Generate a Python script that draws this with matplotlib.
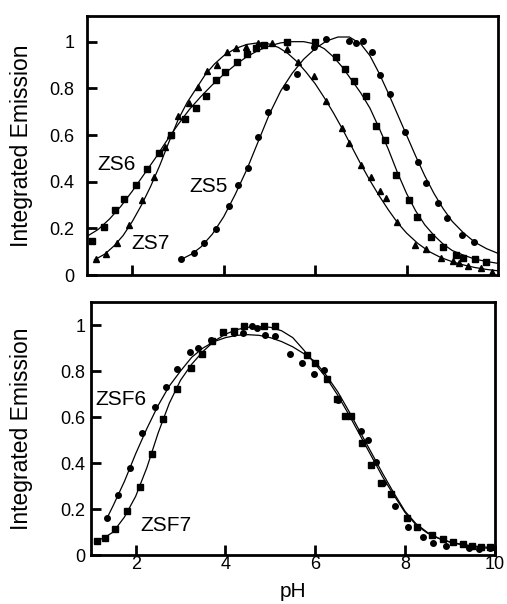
import matplotlib
matplotlib.use('Agg')
import matplotlib.pyplot as plt

plt.rcParams['font.family'] = ['Liberation Sans', 'DejaVu Sans']

# ---- top panel: measured points ----
zs5_ph = [3.07, 3.34, 3.57, 3.84, 4.11, 4.32, 4.53, 4.76, 4.97, 5.36, 5.61, 5.98,
          6.24, 6.75, 6.90, 7.04, 7.24, 7.43, 7.64, 7.97, 8.25, 8.43, 8.68, 8.88,
          9.22, 9.47]
zs5_em = [0.067, 0.096, 0.138, 0.198, 0.296, 0.384, 0.46, 0.59, 0.70, 0.807, 0.862,
          0.976, 1.01, 1.003, 0.996, 1.003, 0.955, 0.857, 0.776, 0.612, 0.484, 0.396,
          0.31, 0.246, 0.171, 0.141]

zs6_ph = [1.12, 1.38, 1.61, 1.82, 2.07, 2.32, 2.59, 2.85, 3.16, 3.40, 3.62, 3.84,
          4.03, 4.28, 4.50, 4.71, 4.89, 5.39, 6.00, 6.45, 6.66, 6.86, 7.12, 7.34,
          7.54, 7.78, 8.05, 8.24, 8.54, 8.80, 9.09, 9.24, 9.49, 9.73]
zs6_em = [0.147, 0.207, 0.277, 0.326, 0.386, 0.454, 0.524, 0.60, 0.67, 0.714, 0.766,
          0.836, 0.87, 0.914, 0.947, 0.972, 0.985, 1.0, 0.999, 0.936, 0.883, 0.83,
          0.768, 0.639, 0.579, 0.429, 0.321, 0.247, 0.162, 0.121, 0.087, 0.074,
          0.067, 0.057]

zs7_ph = [1.21, 1.42, 1.67, 1.93, 2.22, 2.48, 2.72, 2.83, 3.00, 3.23, 3.44, 3.63,
          3.86, 4.07, 4.27, 4.49, 4.74, 5.05, 5.38, 5.63, 5.98, 6.24, 6.59, 6.75,
          7.01, 7.23, 7.41, 7.56, 7.80, 8.18, 8.43, 8.76, 9.02, 9.16, 9.35, 9.64,
          9.88]
zs7_em = [0.067, 0.089, 0.136, 0.214, 0.321, 0.421, 0.55, 0.60, 0.68, 0.736, 0.805,
          0.876, 0.90, 0.957, 0.974, 0.979, 0.993, 0.996, 0.967, 0.914, 0.853, 0.746,
          0.629, 0.564, 0.471, 0.421, 0.36, 0.329, 0.228, 0.129, 0.11, 0.074, 0.06,
          0.05, 0.04, 0.031, 0.014]

# ---- top panel: fitted curves ----
zs5_fit_ph = [3.07, 3.3, 3.5, 3.75, 4.0, 4.25, 4.5, 4.75, 5.0, 5.25, 5.5, 5.75, 6.0,
              6.25, 6.5, 6.75, 7.0, 7.2, 7.4, 7.6, 7.8, 8.0, 8.2, 8.4, 8.6, 8.8,
              9.0, 9.25, 9.5, 9.75, 10.0]
zs5_fit_em = [0.067, 0.09, 0.12, 0.175, 0.25, 0.345, 0.45, 0.57, 0.69, 0.79, 0.865,
              0.925, 0.97, 1.003, 1.02, 1.02, 0.99, 0.94, 0.865, 0.78, 0.69, 0.60,
              0.51, 0.425, 0.35, 0.285, 0.23, 0.18, 0.14, 0.113, 0.093]

zs6_fit_ph = [1.0, 1.25, 1.5, 1.75, 2.0, 2.25, 2.5, 2.75, 3.0, 3.25, 3.5, 3.75, 4.0,
              4.25, 4.5, 4.75, 5.0, 5.25, 5.5, 5.75, 6.0, 6.2, 6.4, 6.6, 6.8, 7.0,
              7.2, 7.4, 7.6, 7.8, 8.0, 8.2, 8.4, 8.6, 8.8, 9.0, 9.25, 9.5, 9.75, 10.0]
zs6_fit_em = [0.165, 0.195, 0.24, 0.295, 0.36, 0.43, 0.50, 0.575, 0.645, 0.71, 0.765,
              0.815, 0.86, 0.90, 0.935, 0.962, 0.982, 0.995, 1.0, 1.0, 0.99, 0.97,
              0.935, 0.89, 0.835, 0.78, 0.715, 0.63, 0.54, 0.44, 0.35, 0.275, 0.215,
              0.17, 0.133, 0.105, 0.085, 0.068, 0.058, 0.05]

zs7_fit_ph = [1.17, 1.4, 1.6, 1.8, 2.0, 2.2, 2.4, 2.6, 2.8, 3.0, 3.2, 3.4, 3.6, 3.8,
              4.0, 4.25, 4.5, 4.75, 5.0, 5.2, 5.4, 5.6, 5.8, 6.0, 6.2, 6.4, 6.6,
              6.8, 7.0, 7.2, 7.4, 7.6, 7.8, 8.0, 8.25, 8.5, 8.75, 9.0, 9.25, 9.5,
              9.75, 10.0]
zs7_fit_em = [0.065, 0.09, 0.125, 0.17, 0.23, 0.30, 0.38, 0.47, 0.57, 0.665, 0.74,
              0.80, 0.86, 0.905, 0.94, 0.97, 0.988, 0.995, 0.99, 0.975, 0.95, 0.915,
              0.87, 0.82, 0.76, 0.695, 0.625, 0.55, 0.475, 0.405, 0.34, 0.28, 0.225,
              0.18, 0.135, 0.10, 0.075, 0.057, 0.043, 0.032, 0.024, 0.018]

# ---- bottom panel: measured points ----
zsf6_ph = [1.36, 1.61, 1.87, 2.15, 2.42, 2.67, 2.92, 3.21, 3.39, 3.68, 4.20, 4.39,
           4.59, 4.70, 4.87, 5.11, 5.44, 5.70, 5.98, 6.20, 6.50, 6.80, 7.01, 7.18,
           7.36, 7.52, 7.78, 8.07, 8.39, 8.63, 8.91, 9.43, 9.65, 9.90]
zsf6_em = [0.16, 0.261, 0.38, 0.529, 0.645, 0.732, 0.809, 0.881, 0.899, 0.935, 0.964,
           0.967, 0.997, 0.986, 0.957, 0.952, 0.874, 0.836, 0.787, 0.804, 0.674,
           0.606, 0.539, 0.50, 0.406, 0.312, 0.213, 0.123, 0.077, 0.054, 0.039,
           0.032, 0.025, 0.029]

zsf7_ph = [1.13, 1.31, 1.53, 1.81, 2.09, 2.36, 2.61, 2.92, 3.23, 3.47, 3.69, 3.95,
           4.18, 4.41, 4.85, 5.11, 5.81, 6.00, 6.27, 6.48, 6.67, 6.80, 7.04, 7.24,
           7.46, 7.68, 8.05, 8.26, 8.59, 8.85, 9.07, 9.28, 9.50, 9.70, 9.89]
zsf7_em = [0.062, 0.075, 0.113, 0.191, 0.297, 0.438, 0.59, 0.72, 0.814, 0.874, 0.932,
           0.968, 0.974, 0.997, 0.997, 0.997, 0.87, 0.833, 0.765, 0.678, 0.606, 0.606,
           0.486, 0.391, 0.314, 0.264, 0.16, 0.12, 0.087, 0.068, 0.058, 0.047,
           0.039, 0.036, 0.033]

# ---- bottom panel: fitted curves ----
zsf6_fit_ph = [1.36, 1.5, 1.75, 2.0, 2.25, 2.5, 2.75, 3.0, 3.25, 3.5, 3.75, 4.0,
               4.25, 4.5, 4.75, 5.0, 5.25, 5.5, 5.75, 6.0, 6.25, 6.5, 6.75, 7.0,
               7.25, 7.5, 7.75, 8.0, 8.25, 8.5, 8.75, 9.0, 9.25, 9.5, 9.75, 10.0]
zsf6_fit_em = [0.16, 0.215, 0.32, 0.44, 0.55, 0.65, 0.735, 0.80, 0.86, 0.90, 0.928,
               0.945, 0.955, 0.958, 0.955, 0.945, 0.928, 0.905, 0.875, 0.84, 0.78,
               0.71, 0.625, 0.535, 0.445, 0.355, 0.27, 0.19, 0.135, 0.098, 0.073,
               0.056, 0.045, 0.037, 0.031, 0.027]

zsf7_fit_ph = [1.13, 1.3, 1.5, 1.75, 2.0, 2.25, 2.5, 2.75, 3.0, 3.25, 3.5, 3.75, 4.0,
               4.25, 4.5, 4.75, 5.0, 5.25, 5.5, 5.75, 6.0, 6.25, 6.5, 6.75, 7.0,
               7.25, 7.5, 7.75, 8.0, 8.25, 8.5, 8.75, 9.0, 9.25, 9.5, 9.75, 10.0]
zsf7_fit_em = [0.062, 0.075, 0.10, 0.165, 0.255, 0.38, 0.53, 0.66, 0.76, 0.83, 0.885,
               0.93, 0.96, 0.98, 0.99, 0.993, 0.99, 0.975, 0.945, 0.89, 0.83, 0.77,
               0.695, 0.61, 0.52, 0.43, 0.34, 0.26, 0.185, 0.13, 0.095, 0.072, 0.057,
               0.047, 0.04, 0.035, 0.032]

ytick_vals = [0, 0.2, 0.4, 0.6, 0.8, 1.0]
ytick_text = ['0', '0.2', '0.4', '0.6', '0.8', '1']


def style_axes(ax, ypad):
    for sp in ax.spines.values():
        sp.set_linewidth(2)
    ax.tick_params(direction='in', length=7, width=2, labelsize=13,
                   top=False, right=False)
    ax.tick_params(axis='y', pad=ypad)
    ax.tick_params(axis='x', pad=1)
    ax.set_yticks(ytick_vals)
    ax.set_yticklabels(ytick_text)


def main():
    fig = plt.figure(figsize=(5.07, 6.04), dpi=100)

    ax1 = fig.add_axes([0.171, 0.5447, 0.811, 0.4288])
    ax1.plot(zs5_fit_ph, zs5_fit_em, 'k-', lw=0.9)
    ax1.plot(zs6_fit_ph, zs6_fit_em, 'k-', lw=0.9)
    ax1.plot(zs7_fit_ph, zs7_fit_em, 'k-', lw=0.9)
    ax1.plot(zs5_ph, zs5_em, 'ko', ms=4)
    ax1.plot(zs6_ph, zs6_em, 'ks', ms=3.8)
    ax1.plot(zs7_ph, zs7_em, 'k^', ms=4)
    ax1.text(1.65, 0.475, 'ZS6', fontsize=15, ha='center', va='center')
    ax1.text(2.39, 0.134, 'ZS7', fontsize=15, ha='center', va='center')
    ax1.text(3.66, 0.38, 'ZS5', fontsize=15, ha='center', va='center')
    ax1.set_xlim(1, 10)
    ax1.set_ylim(0, 1.11)
    ax1.set_xticks([2, 4, 6, 8])
    style_axes(ax1, 9)
    ax1.set_xticklabels([])
    ax1.set_ylabel('Integrated Emission', fontsize=16.5)
    ax1.yaxis.set_label_coords(-0.13, 0.5)

    ax2 = fig.add_axes([0.179, 0.0811, 0.797, 0.4189])
    ax2.plot(zsf6_fit_ph, zsf6_fit_em, 'k-', lw=0.9)
    ax2.plot(zsf7_fit_ph, zsf7_fit_em, 'k-', lw=0.9)
    ax2.plot(zsf6_ph, zsf6_em, 'ko', ms=4)
    ax2.plot(zsf7_ph, zsf7_em, 'ks', ms=3.8)
    ax2.text(1.67, 0.677, 'ZSF6', fontsize=15, ha='center', va='center')
    ax2.text(2.67, 0.129, 'ZSF7', fontsize=15, ha='center', va='center')
    ax2.set_xlim(1, 10)
    ax2.set_ylim(0, 1.1)
    ax2.set_xticks([2, 4, 6, 8, 10])
    style_axes(ax2, 4)
    ax2.set_ylabel('Integrated Emission', fontsize=16.5)
    ax2.yaxis.set_label_coords(-0.143, 0.5)
    ax2.set_xlabel('pH', fontsize=15)
    ax2.xaxis.set_label_coords(0.5, -0.105)

    fig.savefig('out.png', dpi=100)


if __name__ == '__main__':
    main()
